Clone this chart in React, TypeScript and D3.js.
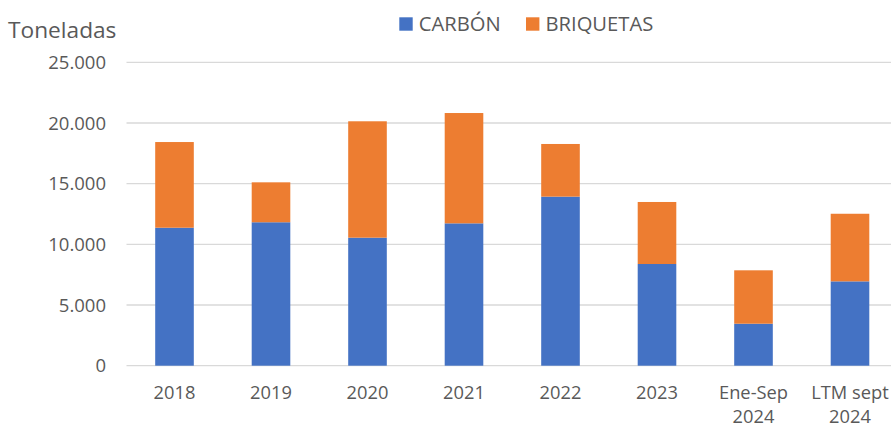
import React from "react";
import * as d3 from "d3";

const categories = ["2018", "2019", "2020", "2021", "2022", "2023", "Ene-Sep\n2024", "LTM sept\n2024"];
const carbon = [11370, 11820, 10550, 11730, 13930, 8380, 3460, 6950];
const briquetas = [7060, 3290, 9590, 9090, 4340, 5110, 4400, 5570];
const yTicks = [0, 5000, 10000, 15000, 20000, 25000];
const seriesNames = ["CARBÓN", "BRIQUETAS"];
const colors = ["#4472C4", "#ED7D31"];

const W = 891;
const H = 428;
const FONT = "'Open Sans', sans-serif";
const TXT = "#595959";

const fmt = (v: number) => (v === 0 ? "0" : d3.format(",")(v).replace(/,/g, "."));

export default function App() {
  const x = d3
    .scaleBand<string>()
    .domain(categories)
    .range([126.25, 898.25])
    .paddingInner(0.6)
    .paddingOuter(0.3);
  const y = d3.scaleLinear().domain([0, 25000]).range([365.7, 62.3]);

  const rows = categories.map((c, i) => ({ cat: c, carbon: carbon[i], briquetas: briquetas[i] }));
  const stack = d3.stack<any>().keys(["carbon", "briquetas"])(rows);

  return (
    <svg
      width={W}
      height={H}
      style={{ position: "absolute", left: 0, top: 0, background: "#fff" }}
      fontFamily={FONT}
    >
      <rect x={0} y={0} width={W} height={H} fill="#fff" />
      {yTicks.map((t) => (
        <g key={t}>
          <line x1={126.5} x2={W} y1={y(t)} y2={y(t)} stroke="#d9d9d9" strokeWidth={1.3} />
          <text x={106} y={y(t)} dy="0.36em" textAnchor="end" fontSize={18.5} fill={TXT}>
            {fmt(t)}
          </text>
        </g>
      ))}
      {stack.map((s, si) => (
        <g key={si} fill={colors[si]}>
          {s.map((d, i) => (
            <rect
              key={i}
              x={x(categories[i])}
              width={x.bandwidth()}
              y={y(d[1])}
              height={y(d[0]) - y(d[1])}
            />
          ))}
        </g>
      ))}
      {categories.map((c) => {
        const lines = c.split("\n");
        const cx = (x(c) as number) + x.bandwidth() / 2;
        return (
          <g key={c}>
            {lines.map((l, j) => (
              <text key={j} x={cx} y={399 + j * 24.3} textAnchor="middle" fontSize={18.3} fill={TXT}>
                {l}
              </text>
            ))}
          </g>
        );
      })}
      <text x={8} y={37.5} fontSize={22.7} fill={TXT}>
        Toneladas
      </text>
      {seriesNames.map((n, i) => {
        const lx = [399.3, 526][i];
        return (
          <g key={n}>
            <rect x={lx} y={17.3} width={13.4} height={13.4} fill={colors[i]} />
            <text x={lx + 19.5} y={30.5} fontSize={20.2} fill={TXT}>
              {n}
            </text>
          </g>
        );
      })}
    </svg>
  );
}
